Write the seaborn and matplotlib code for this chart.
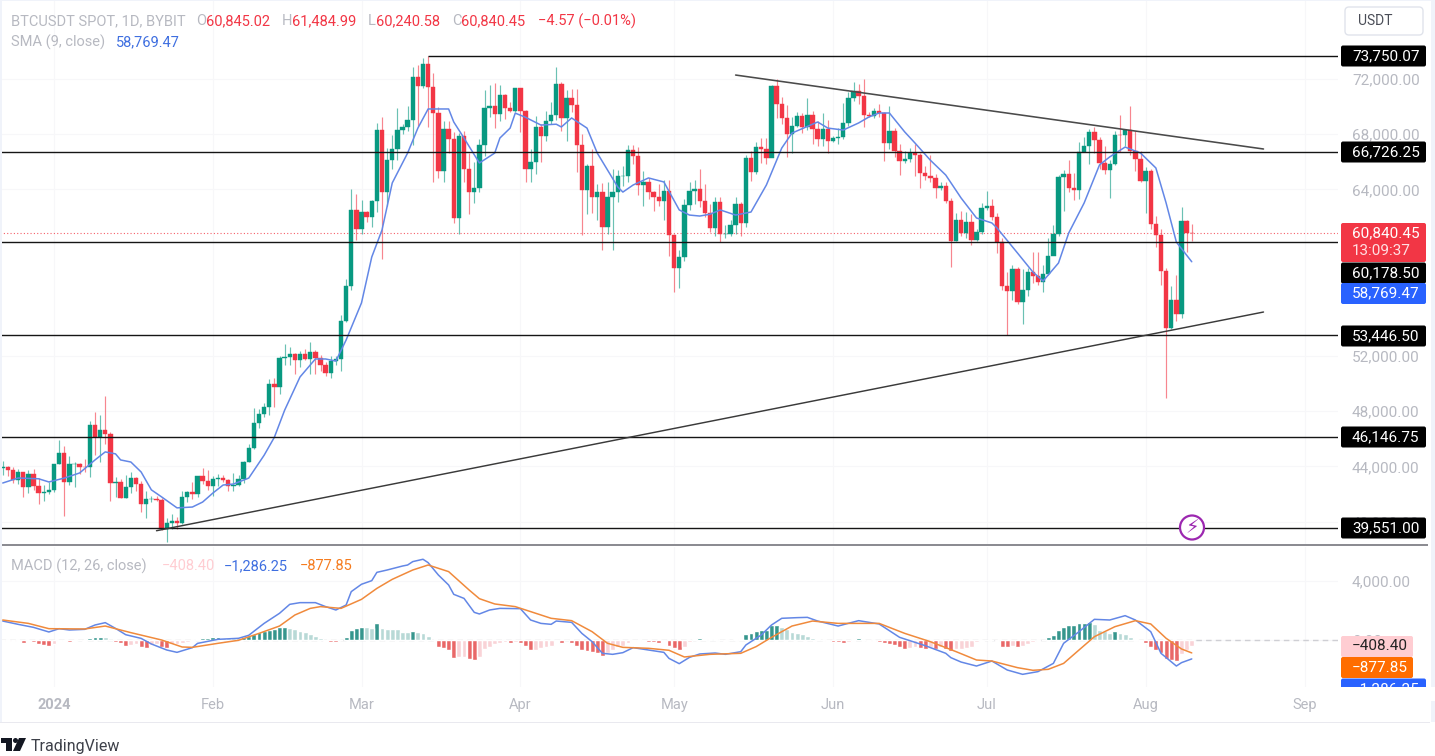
import numpy as np
import pandas as pd
import matplotlib
matplotlib.use("Agg")
import matplotlib.pyplot as plt
import seaborn as sns
from matplotlib.patches import FancyBboxPatch, Rectangle, Circle, Polygon

sns.set_theme(style="white")
plt.rcParams['font.family'] = ['Roboto', 'DejaVu Sans']

# daily candles, first one is 22 Dec 2023, day 0 is 1 Jan 2024
first_day = -10
opens = [43850,43970,43700,43010,43590,42510,43440,42580,42070,42140,
         42280,44180,44950,42840,44150,44160,43960,43930,46970,46120,46630,46340,42780,42840,41730,42510,43140,42740,41260,41620,41660,41550,39510,39880,40070,39930,41810,42120,42030,43300,42940,
         42580,43080,43190,42990,42580,42660,43090,44340,45290,47130,47770,48290,49960,49700,51800,51920,52120,51640,52130,51770,52260,51850,51310,50730,51570,51730,54480,57040,62500,61130,
         62390,61990,63130,68250,63790,66100,66920,68300,68500,69020,72120,71480,73080,71390,69500,65300,68390,67610,61940,67840,65500,63800,64090,67210,69880,70000,69460,70780,69890,69650,71330,
         69650,65470,65960,68500,67840,68900,69360,71620,69140,70590,70060,67190,63920,65660,63420,63810,61280,63470,63820,64940,64940,66840,66410,64280,64500,63770,63460,63120,63870,60670,
         58300,59120,62890,63890,64030,63160,62310,61190,63070,60790,60800,61450,62930,61550,66250,65230,67020,66920,66270,71450,70130,69120,67970,68550,69290,68510,69400,68370,67630,68360,67490,
         67710,67750,68800,70570,71080,70760,69340,69300,69650,69510,67320,68240,66750,66010,66190,66640,66490,65170,64960,64830,64100,64250,63180,60280,61800,60860,61670,60320,60920,62670,
         62770,62020,60200,57040,56640,58230,55850,56700,58040,57720,57340,57900,59220,60790,64870,65100,64100,63970,66710,67150,68170,67550,65930,65370,65800,67910,67900,68250,66780,66190,64620,
         65350,61500,60680,58120,53990,56040,55030,61710,60845.02]
closes = [43970,43700,43010,43590,42510,43440,42580,42070,42140,42280,
          44180,44950,42840,44150,44160,43960,43930,46970,46120,46630,46340,42780,42840,41730,42510,43140,42740,41260,41620,41660,41550,39510,39880,40070,39930,41810,42120,42030,43300,42940,42580,
          43080,43190,42990,42580,42660,43090,44340,45290,47130,47770,48290,49960,49700,51800,51920,52120,51640,52130,51770,52260,51850,51310,50730,51570,51730,54480,57040,62500,61130,62390,
          61990,63130,68250,63790,66100,66920,68300,68500,69020,72120,71480,73080,71390,69500,65300,68390,67610,61940,67840,65500,63800,64090,67210,69880,70000,69460,70780,69890,69650,71330,69650,
          65470,65960,68500,67840,68900,69360,71620,69140,70590,70060,67190,63920,65660,63420,63810,61280,63470,63820,64940,64940,66840,66410,64280,64500,63770,63460,63120,63870,60670,58300,
          59120,62890,63890,64030,63160,62310,61190,63070,60790,60800,61450,62930,61550,66250,65230,67020,66920,66270,71450,70130,69120,67970,68550,69290,68510,69400,68370,67630,68360,67490,67710,
          67750,68800,70570,71080,70760,69340,69300,69650,69510,67320,68240,66750,66010,66190,66640,66490,65170,64960,64830,64100,64250,63180,60280,61800,60860,61670,60320,60920,62670,62770,
          62020,60200,57040,56640,58230,55850,56700,58040,57720,57340,57900,59220,60790,64870,65100,64100,63970,66710,67150,68170,67550,65930,65370,65800,67910,67900,68250,66780,66190,64620,65350,
          61500,60680,58120,53990,56040,55030,61710,60845.02,60840.45]
highs = [44400,44020,43950,43800,43600,43700,43800,43130,42620,42900,
         44200,45900,45500,44770,44300,44230,44500,47250,47900,47700,49050,46500,43250,43080,43400,43580,43200,42930,42200,41850,41880,41680,40280,40550,40350,42250,42200,42850,43320,43880,43750,
         43300,43430,43380,43120,43550,43380,44380,45600,48200,48170,48580,50330,50360,52000,52820,52580,52180,52350,52500,52980,52370,52030,51550,51950,51950,54900,57550,64000,63680,63200,
         62400,63230,68800,69200,67000,67950,69900,68700,70000,72800,72950,73500,73650,72400,69950,68900,68900,68120,68100,68240,66650,65970,67620,71150,71560,71700,71550,70900,70320,71350,71350,
         69700,66900,69300,68700,69650,70300,72800,71750,71170,71250,71250,68000,65820,66880,64350,64450,64500,65450,65400,65650,67200,67200,67050,65300,64800,63900,64350,64700,64700,60800,
         59600,63300,64500,64650,65500,64400,62950,63450,63450,61450,61800,63450,63100,66450,66800,67400,67700,67700,71500,71950,70650,70100,69200,69550,69500,70600,69650,68900,69500,69000,67850,
         68450,70250,71050,71750,71600,71950,69550,69850,70150,69550,70000,68400,67300,66800,66950,67300,66600,65700,66450,65100,64550,64500,63350,62300,62450,62350,62200,61100,63000,63850,
         63300,62300,60500,58000,58500,58400,58250,58300,59500,59450,58550,60500,61400,65000,65400,66100,65150,67400,67800,68350,68500,67800,67100,66100,68200,69400,68300,70000,68200,66800,65600,
         65500,62100,61100,58300,57000,57800,62700,61800,61484.99]
lows = [43400,43300,42800,42700,41800,42100,42300,41300,41520,41970,
        42180,44150,40400,42630,42500,43420,43600,43200,44800,44300,45600,41500,41800,41700,41720,42050,42200,40700,40280,41450,41500,39430,38500,39480,39500,39830,41400,41620,41800,42700,42280,
        41880,42580,42880,42220,42250,42570,42780,44330,45240,46800,47550,47700,48300,49250,51300,51300,50650,51150,51700,50700,50630,50900,50520,50400,51280,50900,54440,56700,60370,60750,
        61630,61300,62350,59000,62800,65500,66150,68000,68200,67200,68600,71300,68500,64500,64800,64550,66600,61550,60800,64530,62250,63000,63780,66400,69250,68400,68900,69050,69550,69600,68130,
        64550,64500,65100,66000,67500,68700,69000,68200,67500,69550,65250,60700,62200,62300,61750,59650,60800,59600,63100,64250,64500,65800,63600,62800,63300,62400,62800,61800,59150,56550,
        56900,58800,62500,62950,62700,62000,60900,60650,60200,60500,60650,60750,60650,61300,64600,65100,65900,65850,66700,69150,68700,66300,66600,68500,68100,68250,67250,67100,67150,66650,67400,
        67300,67600,68550,70400,70150,68500,69200,69150,69200,66050,66900,66300,65050,65900,66000,64950,64100,64700,64500,63400,63950,63000,58400,60250,60600,60450,60000,60300,60750,62500,
        61800,59400,56750,53500,56000,55750,54300,56300,57200,57100,56550,57800,59800,60650,62450,63800,63250,63300,66700,65850,66600,65450,65100,63400,65750,66700,67100,66500,65300,64500,62300,
        61100,59800,57100,48900,53900,54500,54700,59500,60240.58]

sma_days = [-10,-7,-3,-1,2,5,8,10,12,13,15,17,19,21,24,27,29,31,33,35,38,41,43,45,48,51,53,55,57,60,62,64,66,69,71,73,77,78,80,83,86,87,89,90,92,95,98,99,101,104,106,110,111,113,116,119,122,124,126,128,130,133,136,139,142,144,149,151,154,157,159,161,163,166,168,171,174,177,180,183,184,188,191,193,196,198,201,204,206,209,212,215,217,219,222]
sma_values = [42795,43156,43100,42870,43150,43520,44460,45040,44900,44460,44310,43590,42300,41790,41000,41060,41420,42070,42650,42720,43150,44800,46100,48050,50450,51750,51750,51600,53120,55800,59110,61060,64460,66620,68420,69800,69800,68860,67700,65900,66620,67700,68420,69500,69200,68640,68700,68500,69150,68420,66620,64170,63800,64310,64820,64530,62510,62140,62070,62200,62510,62140,62360,64310,66980,68060,68860,68420,68280,68790,69220,69510,69510,68140,67340,66100,65030,63370,61930,61570,61210,59400,58030,57380,58680,60850,63010,65760,66340,67050,66620,65540,63010,60190,58769.47]

macd_days = [-10,-7,-4,-1,1,3,6,8,10,12,14,17,19,22,24,27,28,32,36,38,41,44,46,48,51,53,55,57,58,60,62,63,65,68,69,70,72,73,75,77,78,80,82,83,85,87,91,93,95,97,98,101,103,105,107,109,111,113,116,119,120,122,124,126,129,131,134,135,138,140,142,145,147,149,153,157,161,165,170,174,175,177,180,183,186,189,192,195,197,200,203,206,209,211,214,216,219,220,222]
macd_values = [1290,1065,860,545,770,680,725,1020,1180,790,360,110,-270,-680,-840,-520,-230,45,115,320,1130,1815,2425,2540,2540,2270,2040,2380,3290,3790,4035,4600,4760,5030,5100,5330,5490,5260,4420,3740,3105,2830,1880,1770,2040,2150,2130,1360,1130,1065,1290,1200,450,-115,-905,-975,-860,-520,-680,-840,-1250,-1610,-1180,-950,-885,-975,-795,-340,340,1020,1475,1520,1540,1290,950,1315,1090,180,-385,-905,-1200,-1500,-1770,-1430,-2040,-2335,-2150,-1590,-225,565,1405,1360,1655,1360,565,-905,-1770,-1540,-1286.25]

signal_days = [-10,-5,-1,6,10,15,21,25,27,32,36,40,44,47,50,52,56,60,63,66,70,73,77,81,83,86,90,93,97,101,105,108,111,116,120,123,128,134,137,140,144,148,153,161,166,171,176,180,183,188,191,194,197,200,203,207,211,214,217,220,222]
signal_values = [1360,1130,770,750,950,500,0,-475,-500,-225,-20,450,950,1700,2150,2270,2150,2765,3510,4125,4760,5100,4650,3400,2810,2450,2270,1930,1475,1315,565,-225,-500,-565,-700,-1155,-975,-905,-450,180,950,1290,1130,1130,450,-115,-790,-1360,-1430,-1880,-2060,-1995,-1590,-680,225,905,1315,1090,115,-610,-877.85]

hist_values = [-40,-70,-90,-50,-180,-80,-150,-300,-370,-380,
               -270,-100,-60,-130,-40,-30,-80,130,180,230,
               210,-30,-130,-230,-400,-330,-280,-500,-510,-350,
               -300,-450,-520,-300,-250,-180,-120,-40,100,150,
               170,190,200,170,160,150,140,190,280,380,
               520,600,680,780,860,880,800,720,640,520,
               420,280,120,-100,-130,-150,-10,225,680,840,
               900,880,850,1130,850,780,740,720,565,520,
               610,520,490,270,30,-450,-520,-680,-1250,-1180,
               -1150,-1315,-1360,-1130,-600,-450,-280,-170,-120,-230,
               -130,-230,-400,-700,-650,-560,-500,-380,-90,-230,
               -30,-180,-400,-680,-720,-790,-900,-1060,-900,-700,
               -500,-380,-200,-50,-90,-100,-130,-150,-200,-100,
               -420,-550,-650,-450,-150,50,110,60,50,100,
               30,-40,-30,100,50,400,460,620,680,700,
               1020,1040,900,750,560,480,380,300,160,60,
               20,-60,-120,-150,-180,-110,50,130,-30,-60,
               -80,-130,-200,-260,-340,-500,-580,-530,-500,-560,
               -620,-500,-620,-500,-640,-720,-640,-620,-570,-450,
               -110,-60,-30,-20,-100,-450,-500,-400,-480,-380,
               -280,-120,-70,30,180,330,700,900,1000,1040,
               1130,1180,1240,1100,700,620,500,620,500,400,
               200,50,-100,-200,-450,-650,-850,-1300,-1350,-1400,
               -950,-700,-408.40]

level_prices = [66726.25, 60178.50, 53446.50, 46146.75, 39551.00]
top_level = 73650
top_level_start = 73
last_close = 60840.45
falling_days = [133, 236]
falling_prices = [72250, 66910]
rising_days = [20, 236]
rising_prices = [39350, 55140]

price_ticks = [40000, 44000, 48000, 52000, 64000, 68000, 72000]
macd_ticks = [0, 4000]
month_days = [0, 31, 60, 91, 121, 152, 182, 213, 244]
month_labels = ['2024', 'Feb', 'Mar', 'Apr', 'May', 'Jun', 'Jul', 'Aug', 'Sep']

UP = '#089981'
DOWN = '#f23645'
BLUE_LINE = '#6387e6'
ORANGE_LINE = '#f08a3c'
AXIS_GREY = '#b7b9c1'
W, H = 1435, 756
PX_PER_DAY = 5.125
PLOT_RIGHT = 1338


def frac_box(top, bottom):
    return [0, (H - bottom) / H, PLOT_RIGHT / W, (bottom - top) / H]


days = np.arange(first_day, first_day + len(closes))
candles = pd.DataFrame({'day': days, 'open': opens, 'close': closes, 'high': highs, 'low': lows})
candles['up'] = candles['close'] >= candles['open']

hist = pd.DataFrame({'day': days, 'hist': hist_values})
prev = hist['hist'].shift(1).fillna(0)
hist['state'] = np.select(
    [(hist['hist'] >= 0) & (hist['hist'] >= prev),
     (hist['hist'] >= 0),
     (hist['hist'] < prev)],
    ['up_strong', 'up_weak', 'down_strong'], default='down_weak')
hist_palette = {'up_strong': '#26a69a', 'up_weak': '#b2dfdb', 'down_strong': '#ff5252', 'down_weak': '#ffcdd2'}

fig = plt.figure(figsize=(W / 100, H / 100), dpi=100, facecolor='white')
ax = fig.add_axes(frac_box(0, 545))
ax2 = fig.add_axes(frac_box(547, 687))

xlim = (-54 / PX_PER_DAY, (PLOT_RIGHT - 54) / PX_PER_DAY)

# price pane
for up, color in [(True, UP), (False, DOWN)]:
    part = candles[candles['up'] == up]
    ax.vlines(part['day'], part['low'], part['high'], color=color, lw=0.85, alpha=0.6, zorder=2)
    ax.bar(part['day'], (part['close'] - part['open']).abs(), bottom=part[['open', 'close']].min(axis=1),
           width=0.84, color=color, edgecolor=color, linewidth=0.3, zorder=3)

sns.lineplot(x=sma_days, y=sma_values, ax=ax, color=BLUE_LINE, lw=1.1, estimator=None, sort=False, zorder=4)

ax.hlines(level_prices, xlim[0], xlim[1], color='#151515', lw=1.0, zorder=5)
ax.hlines(top_level, top_level_start, xlim[1], color='#111111', lw=1.0, zorder=5)
ax.axhline(last_close, color=DOWN, lw=0.8, ls=(0, (1, 2)), zorder=1, alpha=0.8)
sns.lineplot(x=falling_days, y=falling_prices, ax=ax, color='#4a4a4a', lw=1.15, estimator=None, zorder=5)
sns.lineplot(x=rising_days, y=rising_prices, ax=ax, color='#3a3a3a', lw=1.05, estimator=None, zorder=5)

ax.set_xlim(*xlim)
ax.set_ylim(38319, 77668)
ax.set_xticks(month_days)
ax.set_xticklabels([])
ax.set_yticks(price_ticks)
ax.set_yticklabels([f'{v:,.2f}' for v in price_ticks])

# macd pane
sns.barplot(data=hist, x='day', y='hist', hue='state', palette=hist_palette, native_scale=True,
            dodge=False, legend=False, width=0.95, ax=ax2, zorder=2)
ax2.axhline(0, color='#cfcfd4', lw=1, ls=(0, (4, 3)), zorder=1)
sns.lineplot(x=macd_days, y=macd_values, ax=ax2, color=BLUE_LINE, lw=1.1, estimator=None, sort=False, zorder=4)
sns.lineplot(x=signal_days, y=signal_values, ax=ax2, color=ORANGE_LINE, lw=1.1, estimator=None, sort=False, zorder=5)
ax2.set_xlim(*xlim)
ax2.set_ylim(-3196, 6324)
ax2.set_xlabel('')
ax2.set_ylabel('')
ax2.set_xticks(month_days)
ax2.set_xticklabels(month_labels)
ax2.set_yticks(macd_ticks)
ax2.set_yticklabels([f'{v:,.2f}' for v in macd_ticks])
ax2.get_xticklabels()[0].set_fontweight('bold')

for a in (ax, ax2):
    a.yaxis.tick_right()
    a.tick_params(axis='y', length=0, pad=10, labelsize=11, labelcolor=AXIS_GREY)
    a.tick_params(axis='x', length=0, pad=8, labelsize=10.5, labelcolor=AXIS_GREY)
    a.grid(True, color='#f7f7f9', lw=0.8, zorder=0)
    a.set_axisbelow(True)
    for s in a.spines.values():
        s.set_visible(False)

# overlay in pixel coordinates, for labels and frame
ov = fig.add_axes([0, 0, 1, 1], zorder=10)
ov.set_xlim(0, W)
ov.set_ylim(H, 0)
ov.axis('off')


def box(x0, y0, x1, y1, color, z=2):
    ov.add_patch(FancyBboxPatch((x0, y0), x1 - x0, y1 - y0, boxstyle='round,pad=0,rounding_size=2',
                                fc=color, ec='none', zorder=z))


def tag(y, text, color='#000000', tcolor='white', right=1426):
    box(1341, y - 10.5, right, y + 10.5, color)
    ov.text(1352, y, text, color=tcolor, fontsize=11, va='center', ha='left', zorder=3)


tag(56, '73,750.07')
tag(152, '66,726.25')
tag(336, '53,446.50')
tag(437, '46,146.75')
tag(528, '39,551.00')
box(1341, 223, 1426, 262, DOWN)
ov.text(1352, 233, '60,840.45', color='white', fontsize=11, va='center', zorder=3)
ov.text(1352, 251, '13:09:37', color='#ffdfe2', fontsize=11, va='center', zorder=3)
tag(273, '60,178.50')
tag(293.5, '58,769.47', color='#2962ff')
tag(646.5, '\u2212408.40', color='#ffcdd2', tcolor='#222222', right=1413)
tag(667.5, '\u2212877.85', color='#ff6d00', right=1413)
tag(689, '\u22121,286.25', color='#2962ff')
ov.add_patch(Rectangle((1335, 687), 100, 14, fc='white', ec='none', zorder=4))

# header legend
ov.text(11, 21, 'BTCUSDT SPOT, 1D, BYBIT', color=AXIS_GREY, fontsize=10.5, va='center')
for x, t in [(196, 'O'), (282, 'H'), (368, 'L'), (452, 'C')]:
    ov.text(x, 21, t, color=AXIS_GREY, fontsize=10.5, va='center')
for x, t in [(206, '60,845.02'), (292, '61,484.99'), (376, '60,240.58'), (461, '60,840.45'),
             (538, '\u22124.57 (\u22120.01%)')]:
    ov.text(x, 21, t, color=DOWN, fontsize=10.5, va='center')
ov.text(11, 42, 'SMA (9, close)', color=AXIS_GREY, fontsize=10.5, va='center')
ov.text(116, 42, '58,769.47', color='#3f6fe0', fontsize=10.5, va='center')
ov.text(11, 566, 'MACD (12, 26, close)', color=AXIS_GREY, fontsize=10.5, va='center')
ov.text(162, 566, '\u2212408.40', color='#ffcdd2', fontsize=10.5, va='center')
ov.text(224, 566, '\u22121,286.25', color='#3f6fe0', fontsize=10.5, va='center')
ov.text(300, 566, '\u2212877.85', color='#f57c1f', fontsize=10.5, va='center')

# currency button
ov.add_patch(FancyBboxPatch((1345, 7), 78, 28, boxstyle='round,pad=0,rounding_size=4',
                            fc='white', ec='#e0e3eb', lw=1))
ov.text(1375, 21, 'USDT', color='#4a4d57', fontsize=10, va='center', ha='center')

# pane separators and frame
ov.add_patch(Rectangle((0, 544.3), 1428, 1.8, fc='#8c8c92', ec='none'))
ov.add_patch(Rectangle((0, 721.5), 1430, 1.5, fc='#e9e9ef', ec='none'))
ov.add_patch(Rectangle((0, 0), 2, 722, fc='#f0f3fa', ec='none'))
ov.add_patch(Rectangle((1431, 0), 4, 722, fc='#f0f3fa', ec='none'))
ov.add_patch(Rectangle((0, 0), W, 1.2, fc='#f0f3fa', ec='none'))

# lightning badge
ov.add_patch(Circle((1192, 527.5), 12, fc='white', ec='#9c27b0', lw=1.6, zorder=6))
ov.text(1192, 527.5, '\u26a1', color='#9c27b0', fontsize=14, ha='center', va='center',
        family=['DejaVu Sans'], zorder=7)

# brand mark
ov.add_patch(Rectangle((1, 738), 11, 5, fc='#131722', ec='none'))
ov.add_patch(Rectangle((6, 743), 6, 8, fc='#131722', ec='none'))
ov.add_patch(Circle((15.5, 740.5), 2.5, fc='#131722', ec='none'))
ov.add_patch(Polygon([(19, 738), (26, 738), (20, 751), (13, 751)], closed=True, fc='#131722', ec='none'))
ov.text(31, 746, 'TradingView', color='#3d4049', fontsize=11.5, va='center')

fig.savefig('out.png', dpi=100, facecolor='white')
